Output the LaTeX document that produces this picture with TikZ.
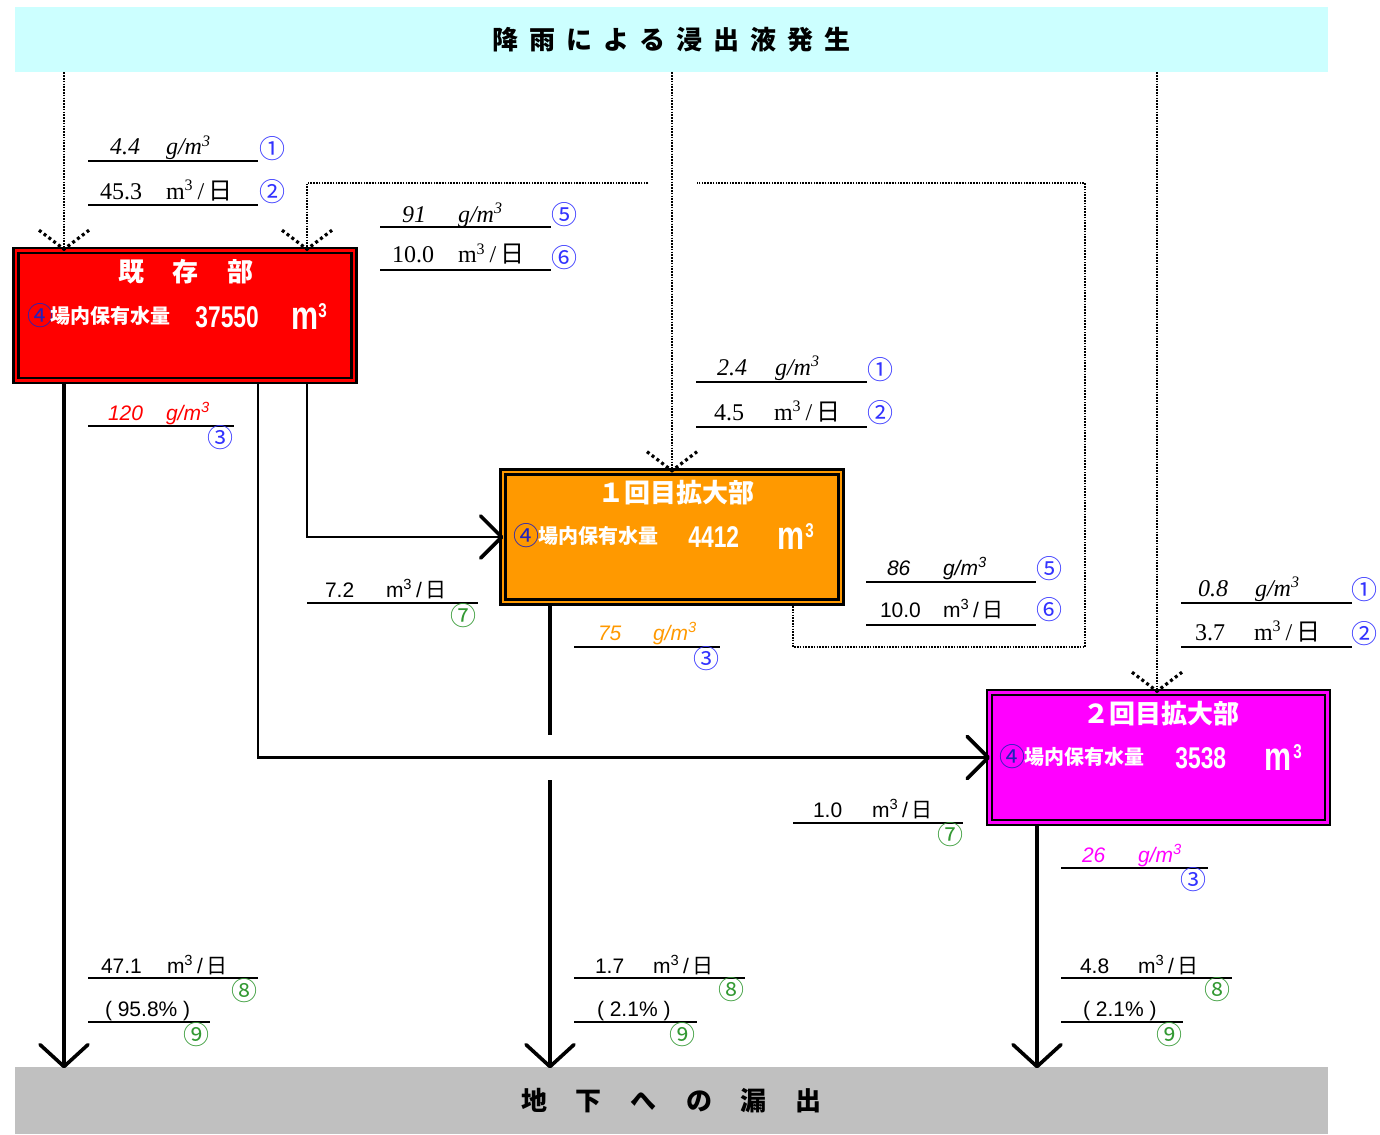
\documentclass[tikz,border=0pt]{standalone}
\usepackage{fontspec}
\setmainfont{Liberation Serif}
\newfontfamily\cjk{Noto Sans CJK JP}
\newfontfamily\lsans{Liberation Sans}
\newfontfamily\narrowsans[FakeStretch=0.76]{Liberation Sans}
\usetikzlibrary{calc}
\newcommand\myfs[1]{\fontsize{#1}{#1}\selectfont}
\definecolor{bannerc}{HTML}{CCFFFF}
\definecolor{groundc}{HTML}{C0C0C0}
\definecolor{boxred}{HTML}{FF0000}
\definecolor{boxorange}{HTML}{FF9900}
\definecolor{boxmag}{HTML}{FF00FF}
\definecolor{cblue}{HTML}{3333FF}
\definecolor{cgreen}{HTML}{339933}
\definecolor{cdark}{HTML}{2222BB}
\tikzset{
 lbl/.style={inner sep=0pt, outer sep=0pt, anchor=base west},
 serl/.style={lbl, font=\myfs{12pt}\rmfamily},
 seril/.style={lbl, font=\myfs{12pt}\rmfamily\itshape},
 sanl/.style={lbl, font=\myfs{10.5pt}\lsans},
 sanil/.style={lbl, font=\myfs{10.5pt}\lsans\itshape},
 circ/.style={inner sep=0pt, font=\myfs{13pt}\cjk},
 cb/.style={circ, text=cblue},
 cg/.style={circ, text=cgreen},
 ul/.style={line width=0.6pt},
 dotl/.style={line width=1.4pt, black, dash pattern=on 0.8pt off 0.6pt},
 chevd/.style={line width=1.6pt, dash pattern=on 1.5pt off 1.5pt},
 flow/.style={line width=1.8pt},
 flowthin/.style={line width=1.3pt},
 chevs/.style={line width=1.8pt, line join=round, line cap=round},
 box/.style={draw=black, line width=1.3pt, double distance=1.2pt, minimum width=169pt, minimum height=65pt, inner sep=0pt},
 boxtitle/.style={inner sep=0pt, text=white, font=\myfs{13pt}\cjk\bfseries},
 boxcirc/.style={inner sep=0pt, anchor=west, text=cdark, font=\myfs{13pt}\cjk},
 boxlab/.style={inner sep=0pt, anchor=west, text=white, font=\myfs{10pt}\cjk\bfseries},
 boxnum/.style={inner sep=0pt, anchor=base west, text=white, font=\myfs{15pt}\narrowsans\bfseries},
 boxm/.style={inner sep=0pt, anchor=base west, text=white, font=\myfs{20pt}\narrowsans\bfseries},
 boxsup/.style={inner sep=0pt, anchor=base west, text=white, font=\myfs{10pt}\narrowsans\bfseries},
 banner/.style={inner sep=0pt, minimum width=656.5pt, font=\myfs{13pt}\cjk\bfseries},
}
\newcommand\munit{m\textsuperscript{3}\,/\,{\cjk 日}}
\newcommand\gunit{g/m\textsuperscript{3}}
\begin{document}
\begin{tikzpicture}[x=0.5pt,y=-0.5pt]
\useasboundingbox (0,0) rectangle (1380,1134);
\fill[white] (0,0) rectangle (1380,1134);

% banners
\node[banner, fill=bannerc, minimum height=32.5pt] (top) at (671.5,39.5)
  {降\hspace{5.5pt}雨\hspace{5.5pt}に\hspace{5.5pt}よ\hspace{5.5pt}る\hspace{5.5pt}浸\hspace{5.5pt}出\hspace{5.5pt}液\hspace{5.5pt}発\hspace{5.5pt}生};
\node[banner, fill=groundc, minimum height=33.5pt] (gnd) at (671.5,1100.5)
  {地\hspace{14.5pt}下\hspace{14.5pt}へ\hspace{14.5pt}の\hspace{14.5pt}漏\hspace{14.5pt}出};

% boxes
\node[box, fill=boxred, double=boxred] (b0) at (185,315.5) {};
\node[box, fill=boxorange, double=boxorange] (b1) at (672,537) {};
\node[box, fill=boxmag, double=boxmag] (b2) at (1158.5,757.5) {};

\node[boxtitle] (b0t) at (186,272) {既\hspace{14.5pt}存\hspace{14.5pt}部};
\node[boxcirc] (b0c) at (27,316) {④};
\node[boxlab] (b0l) at (50,316) {場内保有水量};
\node[boxnum] (b0n) at (195,327) {37550};
\node[boxm] (b0m) at (291,329) {m};
\node[boxsup] (b0s) at (318,317) {3};

\node[boxtitle] (b1t) at (676,493) {１回目拡大部};
\node[boxcirc] (b1c) at (513,536) {④};
\node[boxlab] (b1l) at (538,536) {場内保有水量};
\node[boxnum] (b1n) at (688,547) {4412};
\node[boxm] (b1m) at (777,549) {m};
\node[boxsup] (b1s) at (805,537) {3};

\node[boxtitle] (b2t) at (1161,714) {２回目拡大部};
\node[boxcirc] (b2c) at (999,757) {④};
\node[boxlab] (b2l) at (1024,757) {場内保有水量};
\node[boxnum] (b2n) at (1175,768) {3538};
\node[boxm] (b2m) at (1264,770) {m};
\node[boxsup] (b2s) at (1293,758) {3};

% coordinates for connectors
\coordinate (v0) at (64,0);
\coordinate (v1) at (672,0);
\coordinate (v2) at (1157,0);
\coordinate (s1) at (307,0);
\coordinate (s2) at (258,0);
\coordinate (s3) at (550,0);
\coordinate (s4) at (1037,0);
\coordinate (r1) at (793,647);
\coordinate (r2) at (1085,647);
\coordinate (r3) at (1085,183);
\coordinate (r4) at (697,183);
\coordinate (r5) at (648,183);
\coordinate (r6) at (307,183);
\coordinate (g1) at (550,735);
\coordinate (g2) at (550,780);

\coordinate (t0) at (b0.north -| v0);
\coordinate (t1) at (b1.north -| v1);
\coordinate (t2) at (b2.north -| v2);
\coordinate (t3) at (b0.north -| r6);
\coordinate (e0) at (gnd.north -| v0);
\coordinate (e1) at (gnd.north -| s3);
\coordinate (e2) at (gnd.north -| s4);

% dotted rain lines
\draw[dotl] (top.south -| v0) -- (t0);
\draw[dotl] (top.south -| v1) -- (t1);
\draw[dotl] (top.south -| v2) -- (t2);
% dotted recirculation
\draw[dotl] (b1.south -| r1) -- (r1) -- (r2) -- (r3) -- (r4);
\draw[dotl] (r5) -- (r6) -- (t3);
% dotted chevrons
\foreach \p in {t0,t1,t2,t3} {
  \draw[chevd] (\p) ++(-25,-19) -- (\p) -- ++(25,-19);
}

% solid flows
\draw[flow] (b0.south -| v0) -- (e0);
\draw[flowthin] (b0.south -| s1) |- (b1.west);
\draw[flowthin] (b0.south -| s2) |- (b2.west);
\draw[flow] (b1.south -| s3) -- (g1);
\draw[flow] (g2) -- (e1);
\draw[flow] (b2.south -| s4) -- (e2);
\foreach \p in {e0,e1,e2} {
  \draw[chevs] (\p) ++(-24,-22) -- (\p) -- ++(24,-22);
}
\draw[chevs] (b1.west) ++(-21,-21) -- (b1.west) -- ++(-21,21);
\draw[chevs] (b2.west) ++(-21,-21) -- (b2.west) -- ++(-21,21);

% ---- labels ----
% A
\draw[ul] (88,161) -- (258,161);
\draw[ul] (88,205) -- (258,205);
\node[seril] (a1n) at (110,155) {4.4};
\node[seril] (a1u) at (166,155) {\gunit};
\node[cb] (a1c) at (272,149) {①};
\node[serl] (a2n) at (100,199) {45.3};
\node[serl] (a2u) at (166,199) {\munit};
\node[cb] (a2c) at (272,192) {②};
% B
\draw[ul] (380,227) -- (551,227);
\draw[ul] (380,270) -- (551,270);
\node[seril] (b1an) at (402,222) {91};
\node[seril] (b1au) at (458,222) {\gunit};
\node[cb] (b1ac) at (564,215) {⑤};
\node[serl] (b2an) at (392,263) {10.0};
\node[serl] (b2au) at (458,263) {\munit};
\node[cb] (b2ac) at (564,258) {⑥};
% C
\draw[ul] (696,382) -- (867,382);
\draw[ul] (696,427) -- (867,427);
\node[seril] (c1n) at (717,375) {2.4};
\node[seril] (c1u) at (775,375) {\gunit};
\node[cb] (c1c) at (880,370) {①};
\node[serl] (c2n) at (714,420) {4.5};
\node[serl] (c2u) at (774,420) {\munit};
\node[cb] (c2c) at (880,413) {②};
% H
\draw[ul] (1181,603) -- (1352,603);
\draw[ul] (1181,647) -- (1352,647);
\node[seril] (h1n) at (1198,596) {0.8};
\node[seril] (h1u) at (1255,596) {\gunit};
\node[cb] (h1c) at (1364,590) {①};
\node[serl] (h2n) at (1195,640) {3.7};
\node[serl] (h2u) at (1254,640) {\munit};
\node[cb] (h2c) at (1364,634) {②};
% G
\draw[ul] (866,582) -- (1036,582);
\draw[ul] (866,625) -- (1036,625);
\node[sanil] (g1n) at (887,575) {86};
\node[sanil] (g1u) at (943,575) {\gunit};
\node[cb] (g1c) at (1049,569) {⑤};
\node[sanl] (g2n) at (880,617) {10.0};
\node[sanl] (g2u) at (943,617) {\munit};
\node[cb] (g2c) at (1049,610) {⑥};
% D
\draw[ul] (88,426) -- (234,426);
\node[sanil, text=boxred] (d1n) at (108,420) {120};
\node[sanil, text=boxred] (d1u) at (166,420) {\gunit};
\node[cb] (d1c) at (220,438) {③};
% E
\draw[ul] (307,603) -- (478,603);
\node[sanl] (e1n) at (325,597) {7.2};
\node[sanl] (e1u) at (386,597) {\munit};
\node[cg] (e1c) at (463,616) {⑦};
% F
\draw[ul] (574,647) -- (720,647);
\node[sanil, text=boxorange] (f1n) at (598,640) {75};
\node[sanil, text=boxorange] (f1u) at (653,640) {\gunit};
\node[cb] (f1c) at (706,659) {③};
% I
\draw[ul] (793,823) -- (963,823);
\node[sanl] (i1n) at (813,817) {1.0};
\node[sanl] (i1u) at (872,817) {\munit};
\node[cg] (i1c) at (950,835) {⑦};
% J
\draw[ul] (1061,868) -- (1208,868);
\node[sanil, text=boxmag] (j1n) at (1082,862) {26};
\node[sanil, text=boxmag] (j1u) at (1138,862) {\gunit};
\node[cb] (j1c) at (1193,880) {③};
% K
\draw[ul] (88,978) -- (258,978);
\draw[ul] (88,1022) -- (210,1022);
\node[sanl] (k1n) at (101,973) {47.1};
\node[sanl] (k1u) at (167,973) {\munit};
\node[cg] (k1c) at (244,991) {⑧};
\node[sanl] (k2n) at (105,1016) {( 95.8\% )};
\node[cg] (k2c) at (196,1035) {⑨};
% L
\draw[ul] (574,978) -- (745,978);
\draw[ul] (574,1022) -- (697,1022);
\node[sanl] (l1n) at (595,973) {1.7};
\node[sanl] (l1u) at (653,973) {\munit};
\node[cg] (l1c) at (731,990) {⑧};
\node[sanl] (l2n) at (597,1016) {( 2.1\% )};
\node[cg] (l2c) at (682,1035) {⑨};
% M
\draw[ul] (1061,978) -- (1232,978);
\draw[ul] (1061,1022) -- (1183,1022);
\node[sanl] (m1n) at (1080,973) {4.8};
\node[sanl] (m1u) at (1138,973) {\munit};
\node[cg] (m1c) at (1217,990) {⑧};
\node[sanl] (m2n) at (1083,1016) {( 2.1\% )};
\node[cg] (m2c) at (1169,1035) {⑨};
\end{tikzpicture}
\end{document}
